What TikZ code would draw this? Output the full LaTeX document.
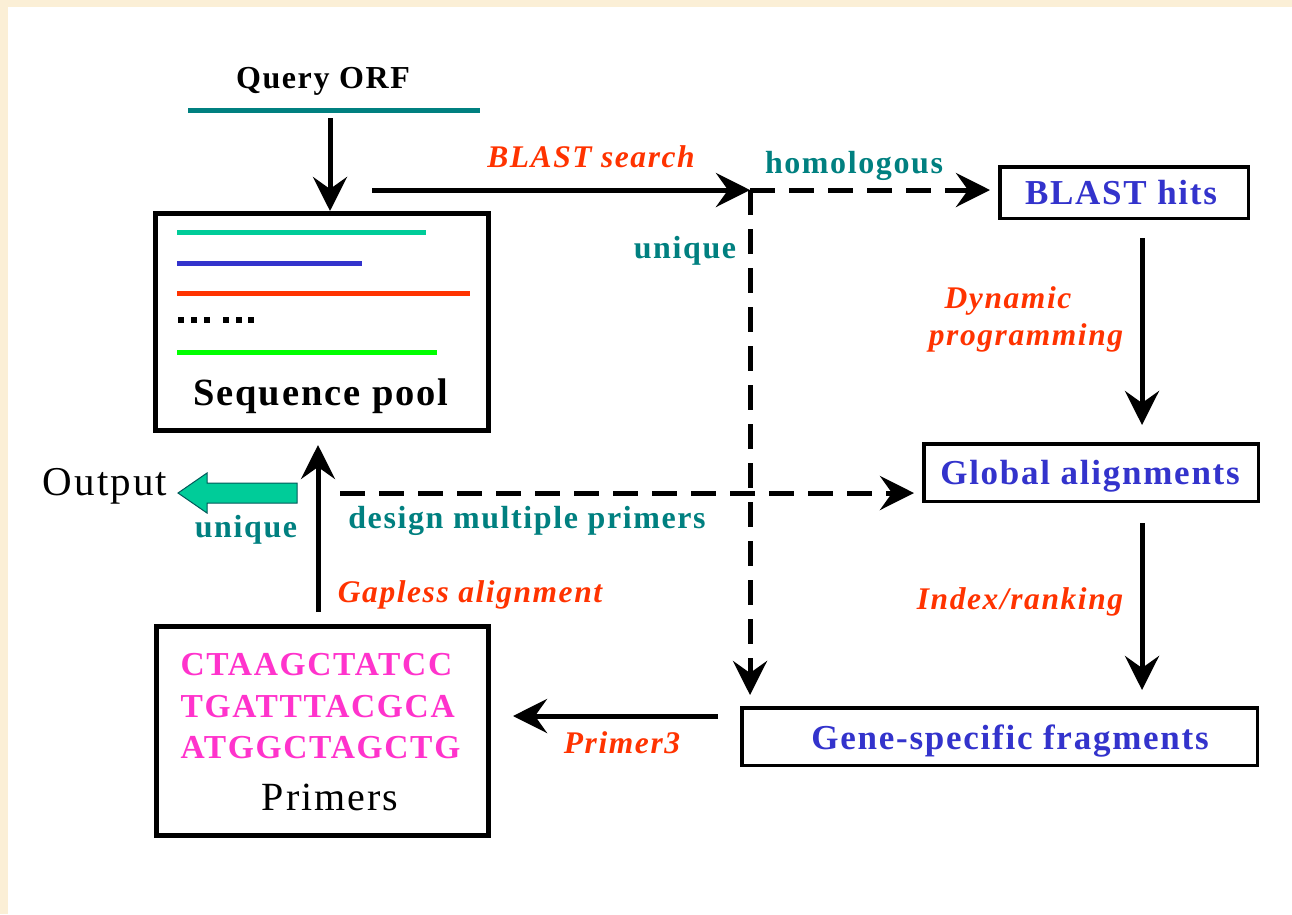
\documentclass[tikz,border=0pt]{standalone}
\usepackage{fontspec}
\setmainfont{Liberation Serif}[LetterSpace=5]
\usetikzlibrary{arrows.meta}
\definecolor{cream}{HTML}{FBEFD6}
\definecolor{lblred}{HTML}{FF3300}
\definecolor{lblteal}{HTML}{008080}
\definecolor{lblblue}{HTML}{3333CC}
\definecolor{lblmag}{HTML}{FF33CC}
\definecolor{seqteal}{HTML}{00CC99}
\definecolor{seqgreen}{HTML}{00FF00}
\newcommand{\fsz}[1]{\fontsize{#1}{#1}\selectfont}
\begin{document}
\begin{tikzpicture}[x=1pt,y=-1pt,
  bigbox/.style={draw, line width=5pt, inner sep=0pt, fill=white},
  bluebox/.style={draw, line width=3.5pt, inner sep=0pt, fill=white},
  arr/.style={line width=5pt, -{Stealth[length=34pt,width=34pt,inset=12pt]}},
  darr/.style={arr, dash pattern=on 25pt off 14pt},
  redlbl/.style={anchor=base, text=lblred, font=\bfseries\itshape\fsz{31.5}},
  teallbl/.style={anchor=base, text=lblteal, font=\bfseries\fsz{32}},
  bluelbl/.style={anchor=base, text=lblblue, font=\bfseries\fsz{35}},
  maglbl/.style={anchor=base west, text=lblmag, font=\bfseries\fsz{33.5}},
  seqline/.style={line width=5pt}
]
\fill[cream] (0,0) rectangle (1292,914);
\fill[white] (8,7) rectangle (1292,914);
\useasboundingbox (0,0) rectangle (1292,914);

% boxes
\node[bigbox, minimum width=333pt, minimum height=217pt] (pool) at (322,322) {};
\node[bigbox, minimum width=332pt, minimum height=209pt] (primers) at (322.5,731) {};
\node[bluebox, minimum width=248.5pt, minimum height=51.5pt] (hits) at (1124,192.5) {};
\node[bluebox, minimum width=334.5pt, minimum height=57.5pt] (global) at (1091,472.5) {};
\node[bluebox, minimum width=515.5pt, minimum height=57.5pt] (gene) at (999.5,736.5) {};

% query ORF
\node[anchor=base, font=\bfseries\fsz{32}] (qorf) at (323,88) {Query ORF};
\coordinate (qa) at (188,110);
\coordinate (qb) at (480,110);
\draw[lblteal, line width=5pt] (qa) -- (qb);
\coordinate (qarrs) at (330,118);
\draw[arr] (qarrs) -- (qarrs |- pool.north);

% sequence pool content
\coordinate (l1a) at (177,232); \coordinate (l1b) at (426,232);
\coordinate (l2a) at (177,263); \coordinate (l2b) at (362,263);
\coordinate (l3a) at (177,293); \coordinate (l3b) at (470,293);
\coordinate (l5a) at (177,352); \coordinate (l5b) at (437,352);
\draw[seqline, seqteal] (l1a) -- (l1b);
\draw[seqline, lblblue] (l2a) -- (l2b);
\draw[seqline, lblred] (l3a) -- (l3b);
\draw[seqline, seqgreen] (l5a) -- (l5b);
\foreach \dx in {181,194,207,226,239,251} \fill (\dx-3,317) rectangle (\dx+3,323);
\node[anchor=base, font=\bfseries\fsz{38.5}] (pooltxt) at (321,405) {Sequence pool};

% BLAST search
\coordinate (bs) at (372,190);
\coordinate (junc) at (750,190);
\draw[arr] (bs) -- (junc);
\node[redlbl] (blastlbl) at (591,167) {BLAST search};
\draw[darr] (junc) -- ([xshift=-8pt]hits.west |- junc);
\node[teallbl] (homlbl) at (854,173) {homologous};
\coordinate (jdown) at (750,695);
\draw[darr] (junc) -- (jdown);
\node[teallbl] (uniq1) at (685,258) {unique};

% BLAST hits
\node[bluelbl] (hitstxt) at (1121,204) {BLAST hits};
\coordinate (colx) at (1142,0);
\draw[arr, shorten <=18pt, shorten >=17pt] (hits.south -| colx) -- (global.north -| colx);
\node[redlbl] (dyn1) at (1008,308) {Dynamic};
\node[redlbl] (dyn2) at (1026,345) {programming};

% Global alignments
\node[bluelbl] (globtxt) at (1090,484) {Global alignments};
\draw[arr, shorten <=20pt, shorten >=16pt] (global.south -| colx) -- (gene.north -| colx);
\node[redlbl] (idx) at (1020,609) {Index/ranking};

% design multiple primers
\coordinate (ds) at (340,493);
\draw[darr] (ds) -- ([xshift=-8pt]global.west |- ds);
\node[teallbl] (design) at (527,528) {design multiple primers};

% Gene-specific fragments
\node[bluelbl] (genetxt) at (1010,749) {Gene-specific fragments};
\coordinate (p3s) at (718,716);
\draw[arr] (p3s) -- ([xshift=22pt]primers.east |- p3s);
\node[redlbl] (p3lbl) at (622,753) {Primer3};

% Primers
\node[maglbl] (m1) at (177,675) {CTAAGCTATCC};
\node[maglbl] (m2) at (177,717) {TGATTTACGCA};
\node[maglbl] (m3) at (177,758) {ATGGCTAGCTG};
\node[anchor=base, font=\fsz{40}] (primtxt) at (330,810) {Primers};

% Gapless alignment
\coordinate (gx) at (318,0);
\draw[arr, shorten <=12pt, shorten >=12pt] (primers.north -| gx) -- (pool.south -| gx);
\node[redlbl] (gap) at (470,602) {Gapless alignment};

% Output
\draw[fill=seqteal, draw=lblteal!70!black, line width=1pt]
  (297,483) -- (207,483) -- (207,473) -- (178,493) -- (207,513) -- (207,503) -- (297,503) -- cycle;
\node[anchor=base, font=\fsz{41}] (output) at (105,495) {Output};
\node[teallbl] (uniq2) at (246,537) {unique};
\end{tikzpicture}
\end{document}
